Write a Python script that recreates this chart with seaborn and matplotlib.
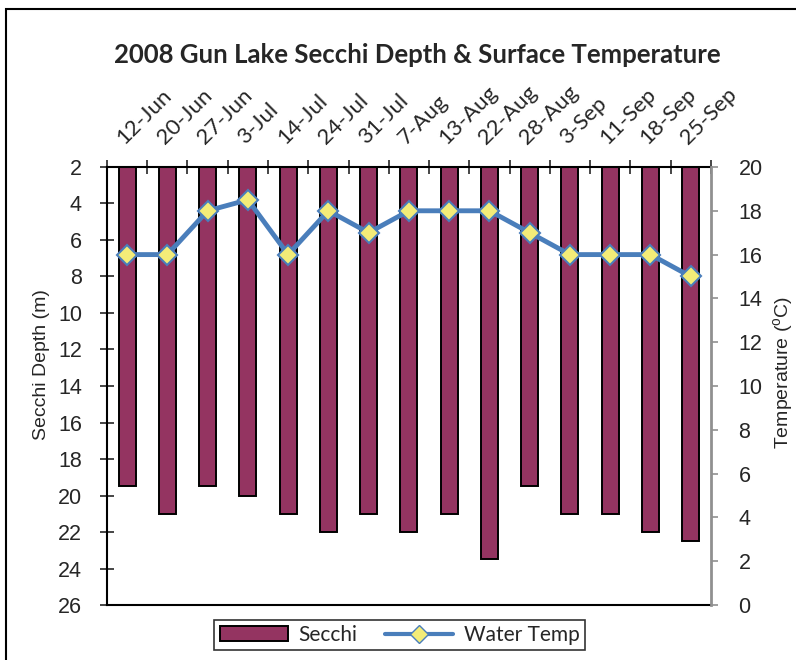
import numpy as np
import pandas as pd
import matplotlib.pyplot as plt
import seaborn as sns
from matplotlib.patches import Patch, Rectangle
from matplotlib.lines import Line2D

# data
dates = ['12-Jun', '20-Jun', '27-Jun', '3-Jul', '14-Jul', '24-Jul', '31-Jul', '7-Aug',
         '13-Aug', '22-Aug', '28-Aug', '3-Sep', '11-Sep', '18-Sep', '25-Sep']
secchi = [19.5, 21, 19.5, 20, 21, 22, 21, 22, 21, 23.5, 19.5, 21, 21, 22, 22.5]
water_temp = [16, 16, 18, 18.5, 16, 18, 17, 18, 18, 18, 17, 16, 16, 16, 15]

df = pd.DataFrame({'Date': dates, 'Secchi': secchi, 'Temp': water_temp})
df['pos'] = np.arange(len(df))

sns.set_style('white')
plt.rcParams['font.family'] = ['Liberation Sans', 'DejaVu Sans']

bar_color = '#943461'
line_color = '#4a7ebb'
marker_face = '#f3ec78'

fig = plt.figure(figsize=(7.96, 6.60), dpi=100)
ax = fig.add_axes([0.1344, 0.0833, 0.7586, 0.6637])

sns.barplot(data=df, x='Date', y='Secchi', color=bar_color, saturation=1,
            edgecolor='black', linewidth=1.4, width=0.42, ax=ax)
ax.set_ylim(26, 2)
ax.set_xlim(-0.5, len(dates) - 0.5)
ax.set_yticks(np.arange(2, 27, 2))
ax.tick_params(axis='y', labelsize=15.5, direction='inout', length=10, width=1.2,
               left=True, pad=13)
ax.set_ylabel('Secchi Depth (m)', fontsize=14, labelpad=6, y=0.55)
ax.set_xlabel('')

# category labels on top, tick marks between categories
ax.xaxis.tick_top()
ax.set_xticks(df['pos'])
ax.set_xticklabels(dates, rotation=45, ha='left', va='bottom', rotation_mode='anchor',
                   fontsize=16, family=['Lato', 'DejaVu Sans'])
ax.tick_params(axis='x', which='major', length=0, pad=14)
ax.set_xticks(np.arange(-0.5, len(dates), 1), minor=True)
ax.tick_params(axis='x', which='minor', top=True, direction='inout', length=10, width=1.2)

for side in ['left', 'top', 'bottom']:
    ax.spines[side].set_color('black')
    ax.spines[side].set_linewidth(1.5)
ax.spines['right'].set_visible(False)

ax2 = ax.twinx()
sns.lineplot(data=df, x='pos', y='Temp', ax=ax2, color=line_color, linewidth=3.5,
             marker='D', markersize=10, markerfacecolor=marker_face,
             markeredgecolor=line_color, markeredgewidth=1.5, sort=False)
ax2.set_ylim(0, 20)
ax2.set_yticks(np.arange(0, 21, 2))
ax2.tick_params(axis='y', labelsize=15.5, direction='out', length=5, width=1.2,
                color='#909090', right=True, pad=15)
ax2.set_ylabel('Temperature ($\\mathregular{^o}$C)', fontsize=14, labelpad=6, y=0.53)
for side in ['left', 'top', 'bottom']:
    ax2.spines[side].set_visible(False)
ax2.spines['right'].set_color('#909090')
ax2.spines['right'].set_linewidth(2)
ax2.set_xlim(-0.5, len(dates) - 0.5)

fig.suptitle('2008 Gun Lake Secchi Depth & Surface Temperature', x=0.524, y=0.935,
             fontsize=18.5, fontweight='bold', family=['Lato', 'DejaVu Sans'])

handles = [Patch(facecolor=bar_color, edgecolor='black', linewidth=1.4, label='Secchi'),
           Line2D([], [], color=line_color, linewidth=3, marker='D', markersize=9,
                  markerfacecolor=marker_face, markeredgecolor=line_color, label='Water Temp')]
leg = fig.legend(handles=handles, loc='center', bbox_to_anchor=(0.502, 0.038), ncol=2,
                 frameon=True, fancybox=False, edgecolor='black',
                 handlelength=3.3, handletextpad=0.5, columnspacing=1.3, borderpad=0.25,
                 prop={'family': ['Lato', 'DejaVu Sans'], 'size': 15})
leg.get_frame().set_linewidth(1.2)

# outer frame of the chart area
fig.patches.append(Rectangle((0.007, -0.01), 0.995, 0.997, transform=fig.transFigure,
                             fill=False, edgecolor='black', linewidth=1.5))

fig.savefig('out.png', dpi=100)
